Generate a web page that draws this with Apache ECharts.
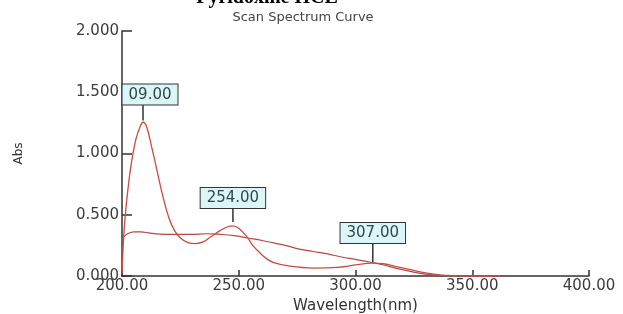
<!DOCTYPE html>
<html>
<head>
<meta charset="utf-8">
<script src="https://cdn.jsdelivr.net/npm/echarts@6/dist/echarts.min.js"></script>
<style>
  html, body { margin: 0; padding: 0; background: #fff; }
  #chart { width: 623px; height: 314px; }
</style>
</head>
<body>
<div id="chart"></div>
<script>
  // curve 1 : sharp peak near 209 nm
  var wl1 = [200, 201, 202.5, 204, 206, 208, 209, 210.5, 212.5, 215, 217.5, 220, 222.5, 225, 228, 231.5, 235, 238, 242, 245, 247.5, 250, 253.5, 256, 259, 262, 265, 272, 282, 292, 300, 307, 312, 318, 324, 330, 336, 342, 350, 362];
  var abs1 = [0.02, 0.40, 0.70, 0.92, 1.12, 1.23, 1.255, 1.22, 1.07, 0.86, 0.65, 0.48, 0.37, 0.31, 0.275, 0.265, 0.28, 0.32, 0.37, 0.40, 0.41, 0.39, 0.32, 0.25, 0.19, 0.14, 0.11, 0.08, 0.065, 0.07, 0.09, 0.105, 0.10, 0.075, 0.05, 0.025, 0.01, 0.003, 0, 0];
  // curve 2 : flat baseline curve
  var wl2 = [200, 202, 205, 208, 212, 218, 224, 230, 236, 242, 248, 254, 260, 265, 270, 276, 282, 288, 294, 300, 307, 312, 318, 324, 330, 336, 342, 350, 362];
  var abs2 = [0.30, 0.34, 0.36, 0.36, 0.35, 0.34, 0.34, 0.34, 0.345, 0.34, 0.33, 0.31, 0.29, 0.27, 0.25, 0.22, 0.20, 0.18, 0.155, 0.135, 0.11, 0.09, 0.06, 0.035, 0.015, 0.005, 0, 0, 0];
  // peak markers
  var peakX = [209, 247.5, 307.4];
  var peakY = [1.27, 0.44, 0.115];
  var peakText = ['09.00', '254.00', '307.00'];

  var leaderLen = [16, 14, 19];
  var labelShift = [7, 0, 0];

  function pairs(xs, ys) {
    return xs.map(function (x, i) { return [x, ys[i]]; });
  }

  var marks = peakX.map(function (x, i) {
    return {
      name: peakText[i],
      coord: [x, peakY[i]],
      symbolSize: [1.5, leaderLen[i]],
      symbolOffset: [0, -leaderLen[i] / 2],
      label: { offset: [labelShift[i], 0] }
    };
  });

  var chart = echarts.init(document.getElementById('chart'), null, { renderer: 'canvas' });
  chart.setOption({
    animation: false,
    backgroundColor: '#fff',
    title: [
      {
        text: 'Pyridoxine HCL',
        left: 262, top: -17, textAlign: 'center',
        textStyle: { fontFamily: 'Liberation Serif', fontWeight: 'bold', fontSize: 20, color: '#000' }
      },
      {
        text: 'Scan Spectrum Curve',
        left: 298, top: 6, textAlign: 'center',
        textStyle: { fontFamily: 'DejaVu Sans', fontWeight: 'normal', fontSize: 13, color: '#444' }
      }
    ],
    grid: { left: 122, right: 34, top: 31, bottom: 38, outerBoundsMode: 'none' },
    xAxis: {
      type: 'value',
      min: 200, max: 400, interval: 50,
      name: 'Wavelength(nm)',
      nameLocation: 'middle',
      nameGap: 18,
      nameTextStyle: { fontFamily: 'DejaVu Sans', fontSize: 15, color: '#333' },
      axisLine: { lineStyle: { color: '#333', width: 1.5 } },
      axisTick: { inside: true, length: 6, lineStyle: { color: '#333', width: 1.5 } },
      axisLabel: {
        fontFamily: 'DejaVu Sans', fontSize: 15, color: '#3c3c3c', margin: 3,
        formatter: function (v) { return v.toFixed(2); }
      },
      splitLine: { show: false }
    },
    yAxis: {
      type: 'value',
      min: 0, max: 2, interval: 0.5,
      name: 'Abs',
      nameLocation: 'middle',
      nameGap: 97,
      nameTextStyle: { fontFamily: 'DejaVu Sans', fontSize: 12, color: '#333' },
      axisLine: { show: true, lineStyle: { color: '#333', width: 1.5 } },
      axisTick: { show: true, inside: true, length: 10, lineStyle: { color: '#333', width: 1.5 } },
      axisLabel: {
        fontFamily: 'DejaVu Sans', fontSize: 15, color: '#3c3c3c', margin: 3,
        formatter: function (v) { return v.toFixed(3); }
      },
      splitLine: { show: false }
    },
    series: [
      {
        type: 'line',
        data: pairs(wl1, abs1),
        smooth: 0.4,
        showSymbol: false,
        lineStyle: { color: '#cc4a44', width: 1.3 },
        z: 3,
        markPoint: {
          symbol: 'rect',
          itemStyle: { color: '#333' },
          label: {
            show: true,
            position: 'top',
            distance: 0,
            formatter: '{b}',
            fontFamily: 'DejaVu Sans',
            fontSize: 15,
            color: '#2e4850',
            backgroundColor: '#dcf6f8',
            borderColor: '#333',
            borderWidth: 1,
            padding: [3, 6, 2, 6]
          },
          data: marks
        }
      },
      {
        type: 'line',
        data: pairs(wl2, abs2),
        smooth: 0.4,
        showSymbol: false,
        lineStyle: { color: '#b24a44', width: 1.2 },
        z: 2
      }
    ]
  });
</script>
</body>
</html>
